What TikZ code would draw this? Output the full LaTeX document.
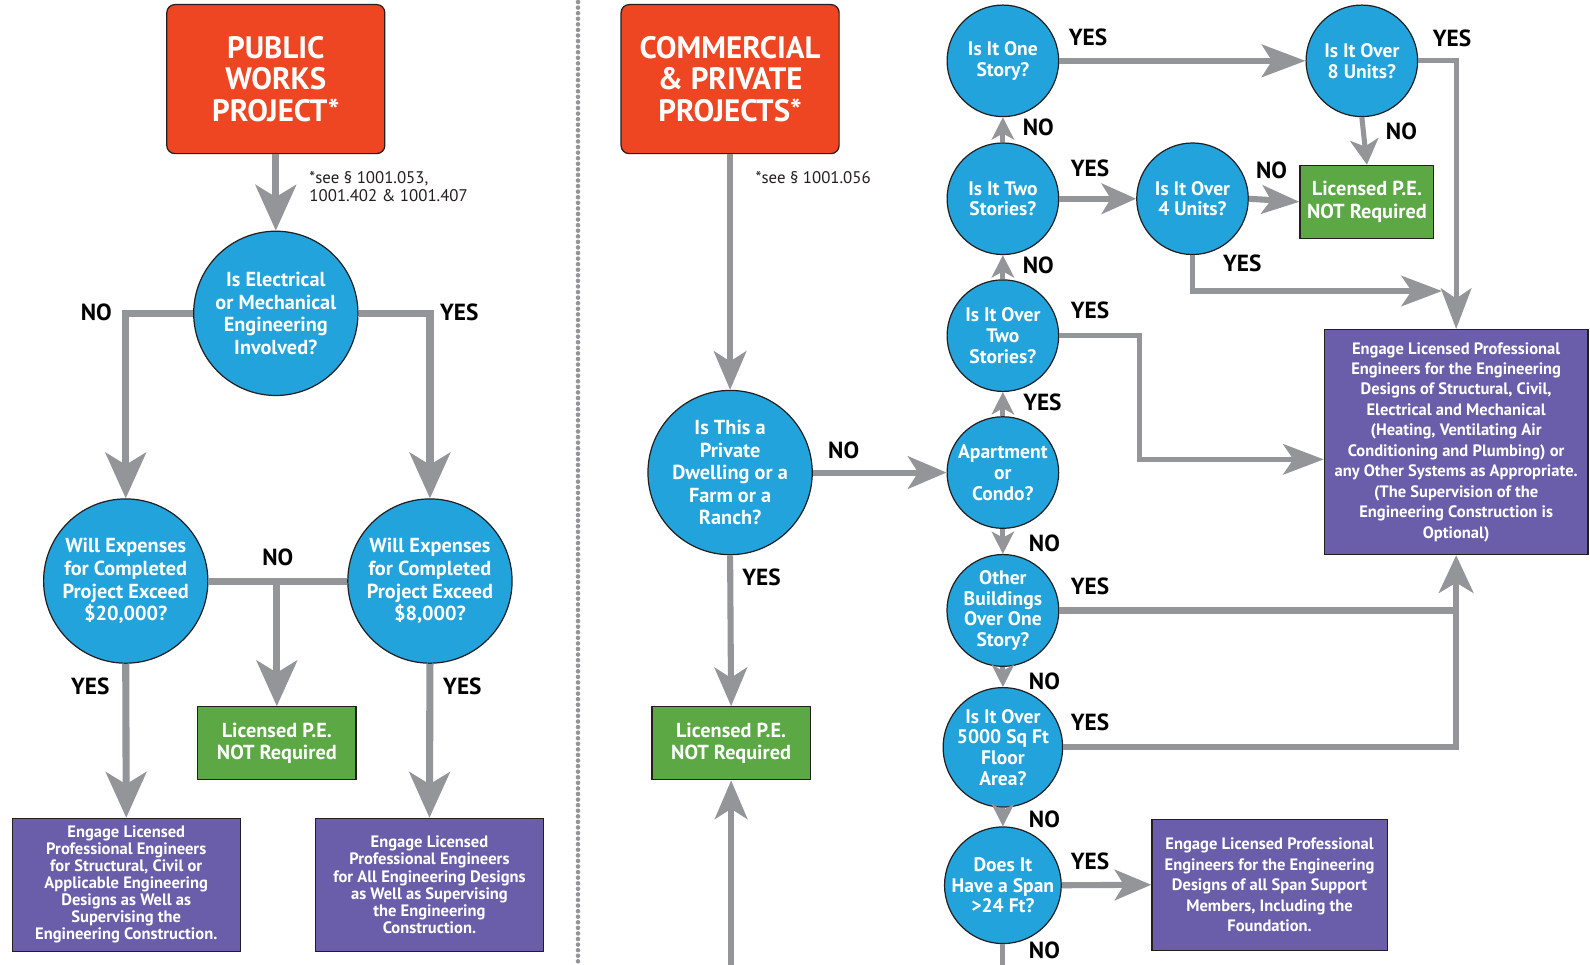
\documentclass[tikz,border=0pt]{standalone}
\usepackage{fontspec}
\setmainfont{PT Sans}
\usetikzlibrary{arrows.meta,calc}
\definecolor{cred}{HTML}{EE4623}
\definecolor{cblue}{HTML}{22A3DC}
\definecolor{cgreen}{HTML}{5BA845}
\definecolor{cpurp}{HTML}{6A5EAA}
\definecolor{cgray}{HTML}{939598}
\definecolor{cdark}{HTML}{231F20}
\begin{document}
\begin{tikzpicture}[x=1pt,y=-1pt,
 titlebox/.style={draw=cdark, line width=1.2pt, fill=cred, rounded corners=8pt, minimum width=215pt, minimum height=147pt, text=white, font=\fontsize{30.5}{31}\selectfont\bfseries, align=center, inner sep=0pt},
 qbig/.style={circle, draw=cdark, line width=1.2pt, fill=cblue, text=white, inner sep=0pt, align=center, minimum size=162pt, font=\fontsize{20}{22.3}\selectfont\bfseries},
 qsm/.style={qbig, minimum size=110pt, font=\fontsize{19.3}{20.5}\selectfont\bfseries},
 pebox/.style={draw=cdark, line width=1.2pt, fill=cgreen, text=white, minimum width=156pt, minimum height=72pt, align=center, inner sep=0pt, font=\fontsize{20}{22}\selectfont\bfseries},
 engbox/.style={draw=cdark, line width=1.2pt, fill=cpurp, text=white, align=center, inner sep=0pt},
 engs/.style={font=\fontsize{16.3}{16.8}\selectfont\bfseries},
 engb/.style={font=\fontsize{16.3}{20.2}\selectfont\bfseries},
 lab/.style={font=\fontsize{23}{24}\selectfont\bfseries, text=black, inner sep=0pt},
 note/.style={font=\fontsize{16.6}{18}\selectfont, text=cdark, align=left, anchor=west, inner sep=0pt},
 ln/.style={draw=cgray, line width=6pt},
 bigarr/.style={draw=cgray, line width=7pt, -{Stealth[length=45pt,width=40pt,inset=12pt]}},
 arr/.style={draw=cgray, line width=6pt, -{Stealth[length=38pt,width=32pt,inset=10pt]}},
 thinarr/.style={draw=cgray, line width=5pt, -{Stealth[length=40pt,width=30pt,inset=10pt]}},
 smarr/.style={draw=cgray, line width=5pt, -{Stealth[length=22pt,width=22pt,inset=6pt]}},
]
\useasboundingbox (0,0) rectangle (1568,951);
\fill[white] (0,0) rectangle (1568,951);

% separator
\draw[cgray, line width=4.5pt, line cap=round, dash pattern=on 0pt off 5.5pt] (570,2) -- (570,951);

% ---------- left part ----------
\node[titlebox] (pw) at (272,78) {PUBLIC\\WORKS\\PROJECT*};
\node[qbig] (q1) at (272,309) {Is Electrical\\or Mechanical\\Engineering\\Involved?};
\node[qbig] (q2l) at (124,573) {Will Expenses\\for Completed\\Project Exceed\\\$20,000?};
\node[qbig] (q2r) at (424,573) {Will Expenses\\for Completed\\Project Exceed\\\$8,000?};
\node[pebox] (pe1) at (273,733) {Licensed P.E.\\NOT Required};
\node[engbox, engs, minimum width=225pt, minimum height=131pt] (eng1) at (124.5,872.5) {Engage Licensed\\Professional Engineers\\for Structural, Civil or\\Applicable Engineering\\Designs as Well as\\Supervising the\\Engineering Construction.};
\node[engbox, engs, minimum width=225pt, minimum height=131pt] (eng2) at (423.5,872.5) {Engage Licensed\\Professional Engineers\\for All Engineering Designs\\as Well as Supervising\\the Engineering\\Construction.};
\node[note] (n1) at (305,184) {*see § 1001.053,\\1001.402 \& 1001.407};

\draw[bigarr] (pw.south) -- (q1.north);
\draw[bigarr] (q1.west) -| (q2l.north);
\draw[bigarr] (q1.east) -| (q2r.north);
\draw[ln, line width=7pt] (q2l.east) -- (q2r.west);
\draw[bigarr] (pe1.north |- q2l.east) -- (pe1.north);
\draw[bigarr] (q2l.south) -- (eng1.north);
\draw[bigarr] (q2r.south) -- (eng2.north);

\node[lab] at (95,308) {NO};
\node[lab] at (453,308) {YES};
\node[lab] at (274,550) {NO};
\node[lab] at (89,677) {YES};
\node[lab] at (456,677) {YES};

% ---------- right part ----------
\node[titlebox] (cp) at (720,78) {COMMERCIAL\\\& PRIVATE\\PROJECTS*};
\node[note] (n2) at (745,175) {*see § 1001.056};
\node[qbig] (q3) at (720,466) {Is This a\\Private\\Dwelling or a\\Farm or a\\Ranch?};
\node[pebox] (pe2) at (721,733) {Licensed P.E.\\NOT Required};
\coordinate (bot1) at (721,960);

\node[qsm] (one) at (989,60) {Is It One\\Story?};
\node[qsm] (two) at (989,196) {Is It Two\\Stories?};
\node[qsm] (over2) at (989,331) {Is It Over\\Two\\Stories?};
\node[qsm] (apt) at (989,466) {Apartment\\or\\Condo?};
\node[qsm] (other) at (989,602) {Other\\Buildings\\Over One\\Story?};
\node[qsm] (sq) at (989,737) {Is It Over\\5000 Sq Ft\\Floor\\Area?};
\node[qsm] (span) at (989,873) {Does It\\Have a Span\\>24 Ft?};
\coordinate (bot2) at (989,960);

\node[qsm] (u8) at (1343,60) {Is It Over\\8 Units?};
\node[qsm] (u4) at (1176,196) {Is It Over\\4 Units?};
\node[pebox, minimum width=132pt] (pe3) at (1348,199) {Licensed P.E.\\NOT Required};
\node[engbox, engb, minimum width=260pt, minimum height=222pt] (eng3) at (1436,436) {Engage Licensed Professional\\Engineers for the Engineering\\Designs of Structural, Civil,\\Electrical and Mechanical\\(Heating, Ventilating Air\\Conditioning and Plumbing) or\\any Other Systems as Appropriate.\\(The Supervision of the\\Engineering Construction is\\Optional)};
\node[engbox, engb, minimum width=232pt, minimum height=129pt] (eng4) at (1252,872.5) {Engage Licensed Professional\\Engineers for the Engineering\\Designs of all Span Support\\Members, Including the\\Foundation.};

\draw[arr] (cp.south) -- (q3.north);
\draw[arr] (q3.east) -- (apt.west);
\draw[arr] (q3.south) -- (pe2.north);
\draw[arr] (bot1) -- (pe2.south);

\draw[smarr] (apt.north) -- (over2.south);
\draw[smarr] (over2.north) -- (two.south);
\draw[smarr] (two.north) -- (one.south);
\draw[smarr] (apt.south) -- (other.north);
\draw[smarr] (other.south) -- (sq.north);
\draw[smarr] (sq.south) -- (span.north);
\draw[ln, line width=5pt] (span.south) -- (bot2);

\draw[arr, -{Stealth[length=43pt,width=32pt,inset=10pt]}] (one.east) -- (u8.west);
\draw[smarr, -{Stealth[length=25pt,width=28pt,inset=7pt]}] (u8.south) -- (pe3.north);
\draw[ln, line width=5pt] (u8.east) -| ($(eng3.north)+(0,-40)$);
\draw[thinarr] ($(eng3.north)+(0,-40)$) -- (eng3.north);
\draw[arr, -{Stealth[length=34pt,width=30pt,inset=9pt]}] (two.east) -- (u4.west);
\draw[arr, -{Stealth[length=37pt,width=28pt,inset=9pt]}] (u4.east) -- (pe3.west);
\coordinate (c4) at (1422,287);
\draw[thinarr] (u4.south) |- (c4);
\coordinate (b1) at (1124,453);
\draw[thinarr] (over2.east) -| (b1) -- (b1 -| eng3.west);
\draw[arr, -{Stealth[length=37pt,width=34pt,inset=10pt]}] (other.east) -| (eng3.south);
\draw[ln] (sq.east) -| (other.east -| eng3.south);
\draw[arr, -{Stealth[length=36pt,width=30pt,inset=9pt]}] (span.east) -- (eng4.west);

\node[lab] at (832,444) {NO};
\node[lab] at (751,569) {YES};
\node[lab] at (1073,37) {YES};
\node[lab] at (1024,126) {NO};
\node[lab] at (1075,166) {YES};
\node[lab] at (1024,262) {NO};
\node[lab] at (1075,306) {YES};
\node[lab] at (1028,397) {YES};
\node[lab] at (1030,536) {NO};
\node[lab] at (1075,578) {YES};
\node[lab] at (1030,672) {NO};
\node[lab] at (1075,712) {YES};
\node[lab] at (1030,808) {NO};
\node[lab] at (1075,849) {YES};
\node[lab] at (1030,937) {NO};
\node[lab] at (1432,38) {YES};
\node[lab] at (1382,130) {NO};
\node[lab] at (1254,168) {NO};
\node[lab] at (1225,260) {YES};
\end{tikzpicture}
\end{document}
